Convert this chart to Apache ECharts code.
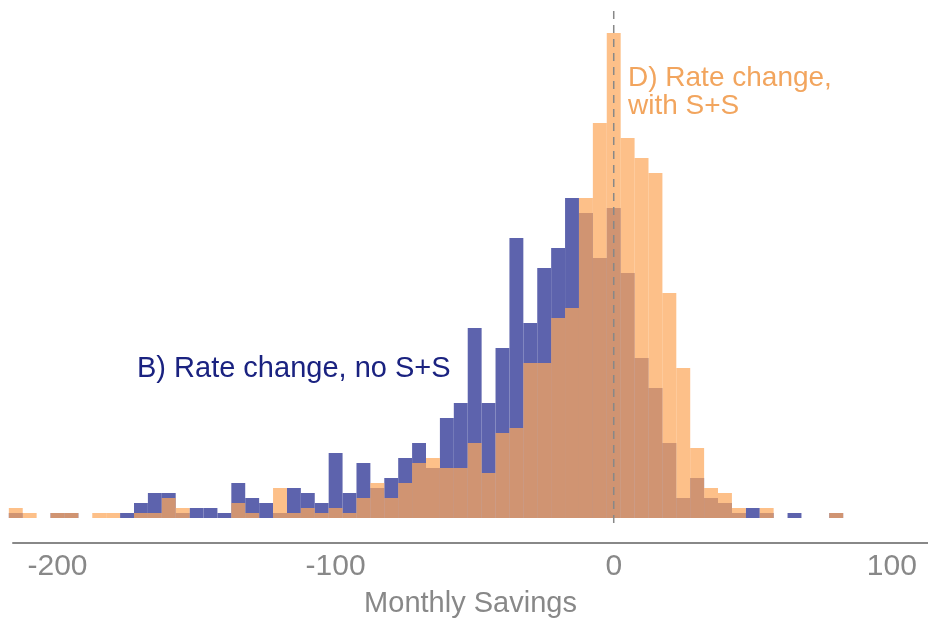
<!DOCTYPE html>
<html><head><meta charset="utf-8">
<script src="https://cdn.jsdelivr.net/npm/echarts@6/dist/echarts.min.js"></script>
<style>html,body{margin:0;padding:0;background:#fff}#c{width:928px;height:619px}</style>
</head><body><div id="c"></div>
<script>
const binCenters = [-215,-210,-200,-195,-185,-180,-175,-170,-165,-160,-155,-150,-145,-140,-135,-130,-125,-120,-115,-110,-105,-100,-95,-90,-85,-80,-75,-70,-65,-60,-55,-50,-45,-40,-35,-30,-25,-20,-15,-10,-5,0,5,10,15,20,25,30,35,40,45,50,55,65,80];
const blueCounts = [1,0,1,1,0,0,1,3,5,5,1,2,2,1,7,4,3,1,6,5,3,13,5,11,6,8,12,15,10,20,23,38,23,34,56,39,50,54,64,61,52,62,49,32,26,15,4,8,4,3,1,2,1,1,1];
const orangeCounts = [2,1,1,1,1,1,0,1,1,4,2,0,0,0,3,1,0,6,1,2,1,2,1,4,7,4,7,11,12,10,10,15,9,17,18,31,31,40,42,64,79,97,76,72,69,45,30,14,6,5,2,0,2,0,1];
const xTicks = [-200,-100,0,100];

function mk(counts){ return binCenters.map((c,i)=>[c,counts[i]]).filter(d=>d[1]>0); }
function render(params, api){
  const c = api.value(0), v = api.value(1);
  const p0 = api.coord([c-2.5, 0]), p1 = api.coord([c+2.5, v]);
  return {type:'rect', shape:{x:p0[0], y:p1[1], width:p1[0]-p0[0], height:p0[1]-p1[1]}, style:api.style()};
}
const F = 'Liberation Sans, Arial';
const chart = echarts.init(document.getElementById('c'));
chart.setOption({
  animation:false,
  grid:{left:13,right:0,top:18,bottom:76,outerBoundsMode:'none',containLabel:false},
  xAxis:{type:'value',min:-216,max:113,splitLine:{show:false},
    axisLine:{show:true,onZero:false,lineStyle:{color:'#888',width:2}},axisTick:{show:false},
    axisLabel:{customValues:xTicks,color:'#888',fontSize:30,fontFamily:F,margin:9},
    name:'Monthly Savings',nameLocation:'middle',nameGap:46,nameTextStyle:{color:'#888',fontSize:29,fontFamily:F,verticalAlign:'top'}},
  yAxis:{type:'value',min:-5,max:100,show:false},
  series:[
    {type:'custom',data:mk(blueCounts),renderItem:render,itemStyle:{color:'rgb(93,99,173)'}},
    {type:'custom',data:mk(orangeCounts),renderItem:render,itemStyle:{color:'rgb(252,167,92)',opacity:0.72}},
    {type:'line',clip:false,data:[[0,-1],[0,102]],symbol:'none',z:5,lineStyle:{color:'#888',type:[8,6],width:1.5}}
  ],
  graphic:[
    {type:'text',left:137,top:354,style:{text:'B) Rate change, no S+S',fill:'#1a2280',fontSize:29,fontFamily:F}},
    {type:'text',left:628,top:64,style:{text:'D) Rate change,\nwith S+S',fill:'#f2a55e',fontSize:28,lineHeight:28,fontFamily:F}}
  ]
});
</script></body></html>
